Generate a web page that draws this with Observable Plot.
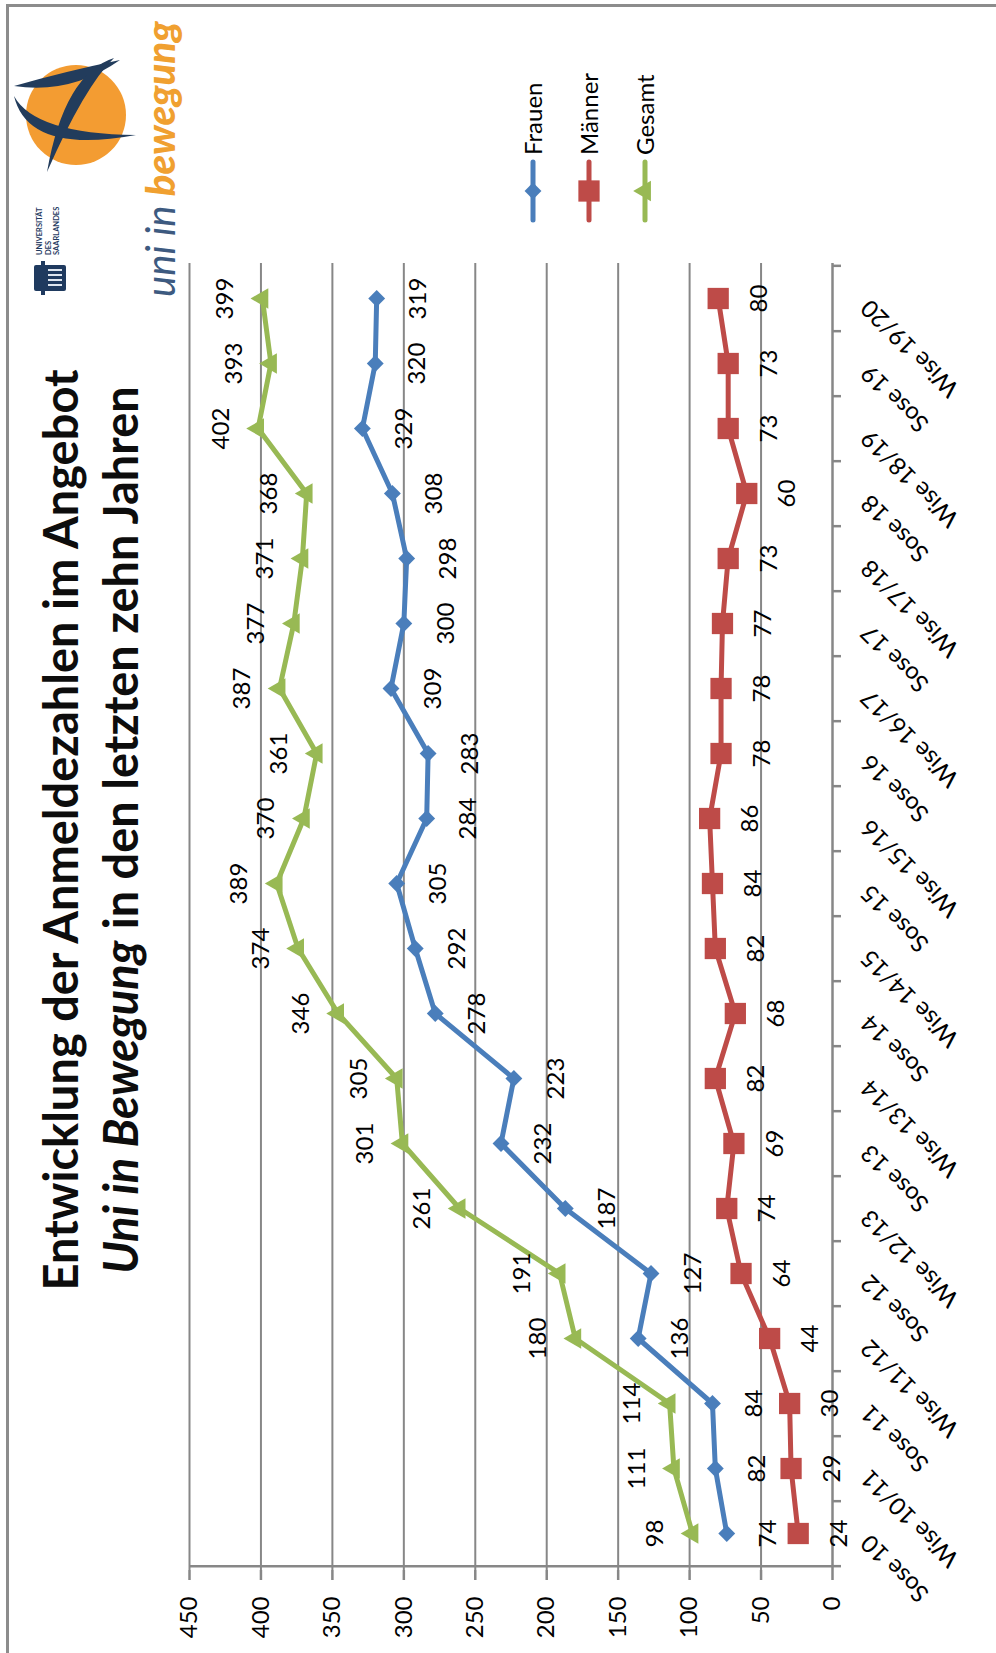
<!DOCTYPE html>
<html>
<head>
<meta charset="utf-8">
<script src="https://cdn.jsdelivr.net/npm/d3@7"></script>
<script src="https://cdn.jsdelivr.net/npm/@observablehq/plot@0.6"></script>
<style>
  html, body { margin: 0; padding: 0; background: #fff; }
  body { width: 996px; height: 1653px; overflow: hidden; position: relative; }
  /* The slide is laid out in landscape and turned a quarter turn to stand upright */
  #slide {
    position: absolute; left: 0; top: 0; width: 1653px; height: 996px;
    transform-origin: 0 0; transform: translateY(1653px) rotate(-90deg);
    background: #fff; font-family: Lato, "Open Sans", sans-serif;
  }
  #frame {
    position: absolute; left: 0; top: 6px; width: 1649px; height: 990px; box-sizing: border-box;
    border-top: 3px solid #8c8c8c; border-right: 3px solid #8c8c8c;
  }
  #chart, #deco { position: absolute; left: 0; top: 0; }
</style>
</head>
<body>
<div id="slide">
  <div id="frame"></div>
  <div id="chart"></div>
  <svg id="deco" width="1653" height="996"></svg>
</div>
<script>
// Semesters (summer / winter) from 2010 to 2019/20
const categories = [
  "Sose 10", "Wise 10/11", "Sose 11", "Wise 11/12", "Sose 12", "Wise 12/13",
  "Sose 13", "Wise 13/14", "Sose 14", "Wise 14/15", "Sose 15", "Wise 15/16",
  "Sose 16", "Wise 16/17", "Sose 17", "Wise 17/18", "Sose 18", "Wise 18/19",
  "Sose 19", "Wise 19/20"
];
// Registrations per semester
const frauen  = [74, 82, 84, 136, 127, 187, 232, 223, 278, 292, 305, 284, 283, 309, 300, 298, 308, 329, 320, 319];
const maenner = [24, 29, 30, 44, 64, 74, 69, 82, 68, 82, 84, 86, 78, 78, 77, 73, 60, 73, 73, 80];
const gesamt  = [98, 111, 114, 180, 191, 261, 301, 305, 346, 374, 389, 370, 361, 387, 377, 371, 368, 402, 393, 399];

const seriesNames = ["Frauen", "Männer", "Gesamt"];
const seriesColors = ["#4a7ebb", "#be4b48", "#98b954"];
const seriesSymbols = ["diamond2", "square", "triangle"];
const yTicks = [0, 50, 100, 150, 200, 250, 300, 350, 400, 450];

const titleLine1 = "Entwicklung der Anmeldezahlen im Angebot";
const titleLine2a = "Uni in Bewegung";
const titleLine2b = " in den letzten zehn Jahren";

// Long table built from the series arrays
const seriesValues = [frauen, maenner, gesamt];
const rows = [];
seriesNames.forEach((s, k) => {
  categories.forEach((c, i) => rows.push({series: s, cat: c, value: seriesValues[k][i]}));
});

const W = 1653, H = 996;
const M = {left: 83, right: 263, top: 189, bottom: 164};
const step = (W - M.left - M.right) / categories.length;
const axisGray = "#878787";
const markerR = {Frauen: 7.6, "Männer": 12.0, Gesamt: 7.6};
const labelDy = {Frauen: 42, "Männer": 41, Gesamt: -37};

const seriesMarks = seriesNames.flatMap((s, k) => {
  const d = rows.filter(r => r.series === s);
  return [
    Plot.line(d, {x: "cat", y: "value", stroke: seriesColors[k], strokeWidth: 5, strokeLinejoin: "round", strokeLinecap: "round"}),
    Plot.dot(d, {x: "cat", y: "value", fill: seriesColors[k], stroke: "none", symbol: seriesSymbols[k], r: markerR[s]})
  ];
});
const labelMarks = seriesNames.map(s =>
  Plot.text(rows.filter(r => r.series === s), {
    x: "cat", y: "value", text: d => String(d.value), dy: labelDy[s], fill: "#000", fontSize: 24
  })
);

const chart = Plot.plot({
  width: W, height: H,
  marginLeft: M.left, marginRight: M.right, marginTop: M.top, marginBottom: M.bottom,
  style: {fontFamily: "Lato, 'Open Sans', sans-serif", fontSize: "24px", color: "#000", background: "transparent", overflow: "visible"},
  x: {type: "point", domain: categories, padding: 0.5, label: null},
  y: {domain: [0, 450], label: null},
  marks: [
    Plot.gridY(yTicks.filter(v => v > 0), {stroke: axisGray, strokeOpacity: 1, strokeWidth: 2}),
    // value axis line at the outer edge of the first semester
    Plot.ruleX([categories[0]], {dx: -step / 2, stroke: axisGray, strokeWidth: 2.5}),
    // category axis line at zero
    Plot.ruleY([0], {stroke: axisGray, strokeWidth: 2.5}),
    // tick marks between semesters
    Plot.ruleX(categories, {y1: 0, y2: 0, insetBottom: -9, dx: -step / 2, stroke: axisGray, strokeWidth: 2.5}),
    Plot.ruleX(categories.slice(-1), {y1: 0, y2: 0, insetBottom: -9, dx: step / 2, stroke: axisGray, strokeWidth: 2.5}),
    Plot.axisY(yTicks, {anchor: "left", tickSize: 10, tickPadding: 17, stroke: axisGray, strokeWidth: 2.5, fill: "#000", fontSize: 24}),
    Plot.axisX({anchor: "bottom", tickRotate: -45, tickSize: 0, tickPadding: 33, textAnchor: "end", lineAnchor: "middle", dx: -5, fill: "#000", fontSize: 24}),
    ...seriesMarks,
    ...labelMarks
  ]
});
document.getElementById("chart").appendChild(chart);

// ---- title, legend and logo ----
const deco = d3.select("#deco").attr("font-family", "Lato, 'Open Sans', sans-serif");

deco.append("text")
  .attr("x", 823).attr("y", 78).attr("text-anchor", "middle")
  .attr("font-size", 47).attr("font-weight", 700).attr("fill", "#0d0d0d")
  .text(titleLine1);
const t2 = deco.append("text")
  .attr("x", 823).attr("y", 138).attr("text-anchor", "middle")
  .attr("font-size", 47).attr("font-weight", 700).attr("fill", "#0d0d0d");
t2.append("tspan").attr("font-style", "italic").text(titleLine2a);
t2.append("tspan").text(titleLine2b);

// legend: line with marker, label to the right
const d3Symbols = {diamond2: d3.symbolDiamond2, square: d3.symbolSquare, triangle: d3.symbolTriangle};
const legend = deco.append("g");
seriesNames.forEach((s, k) => {
  const y = 533 + k * 56;
  const g = legend.append("g");
  g.append("line").attr("x1", 1433).attr("x2", 1491).attr("y1", y).attr("y2", y)
    .attr("stroke", seriesColors[k]).attr("stroke-width", 5).attr("stroke-linecap", "round");
  g.append("path")
    .attr("transform", `translate(1462,${y})`)
    .attr("d", d3.symbol(d3Symbols[seriesSymbols[k]], Math.PI * markerR[s] * markerR[s])())
    .attr("fill", seriesColors[k]);
  g.append("text").attr("x", 1498).attr("y", y + 8.5)
    .attr("font-size", 24).attr("fill", "#000").text(s);
});

// logo: orange ball crossed by curved dark strokes (drawn upright on the page)
function stroke(p0, c, p2, w) {
  const dx = p2[0] - p0[0], dy = p2[1] - p0[1], len = Math.hypot(dx, dy);
  const nx = -dy / len * w, ny = dx / len * w;
  return `M${p0}Q${c[0] + nx},${c[1] + ny} ${p2}Q${c[0] - nx},${c[1] - ny} ${p0}Z`;
}
const logo = deco.append("g").attr("transform", `matrix(0 1 -1 0 ${W} 0)`);
logo.append("circle").attr("cx", 76).attr("cy", 115).attr("r", 50).attr("fill", "#f39c32");
logo.append("path").attr("d", stroke([14, 86], [68, 83], [120, 60], 12)).attr("fill", "#223c5c");
logo.append("path").attr("d", stroke([114, 58], [74.5, 80], [47, 172], 12)).attr("fill", "#223c5c");
logo.append("path").attr("d", stroke([14, 96], [31.5, 144.5], [136, 135], 11)).attr("fill", "#223c5c");

const brand = deco.append("text").attr("x", 1356).attr("y", 175).attr("font-size", 40).attr("font-style", "italic");
brand.append("tspan").attr("fill", "#3d5a80").text("uni in ");
brand.append("tspan").attr("fill", "#f0a030").attr("font-weight", 900).text("bewegung");

// university seal
const seal = deco.append("g").attr("transform", "translate(1358,28)").attr("fill", "#1f3a5f");
seal.append("rect").attr("x", 4).attr("y", 6).attr("width", 26).attr("height", 32).attr("rx", 2);
seal.append("rect").attr("x", 0).attr("y", 13).attr("width", 34).attr("height", 4);
[10, 15, 20, 25].forEach(x => seal.append("rect").attr("x", x - 1).attr("y", 20).attr("width", 2).attr("height", 14).attr("fill", "#dfe6ef"));
["UNIVERSITÄT", "DES", "SAARLANDES"].forEach((t, i) =>
  deco.append("text").attr("x", 1398).attr("y", 42 + i * 8.5).attr("font-size", 7.5)
    .attr("font-weight", 700).attr("fill", "#1f3a5f").text(t));
</script>
</body>
</html>
